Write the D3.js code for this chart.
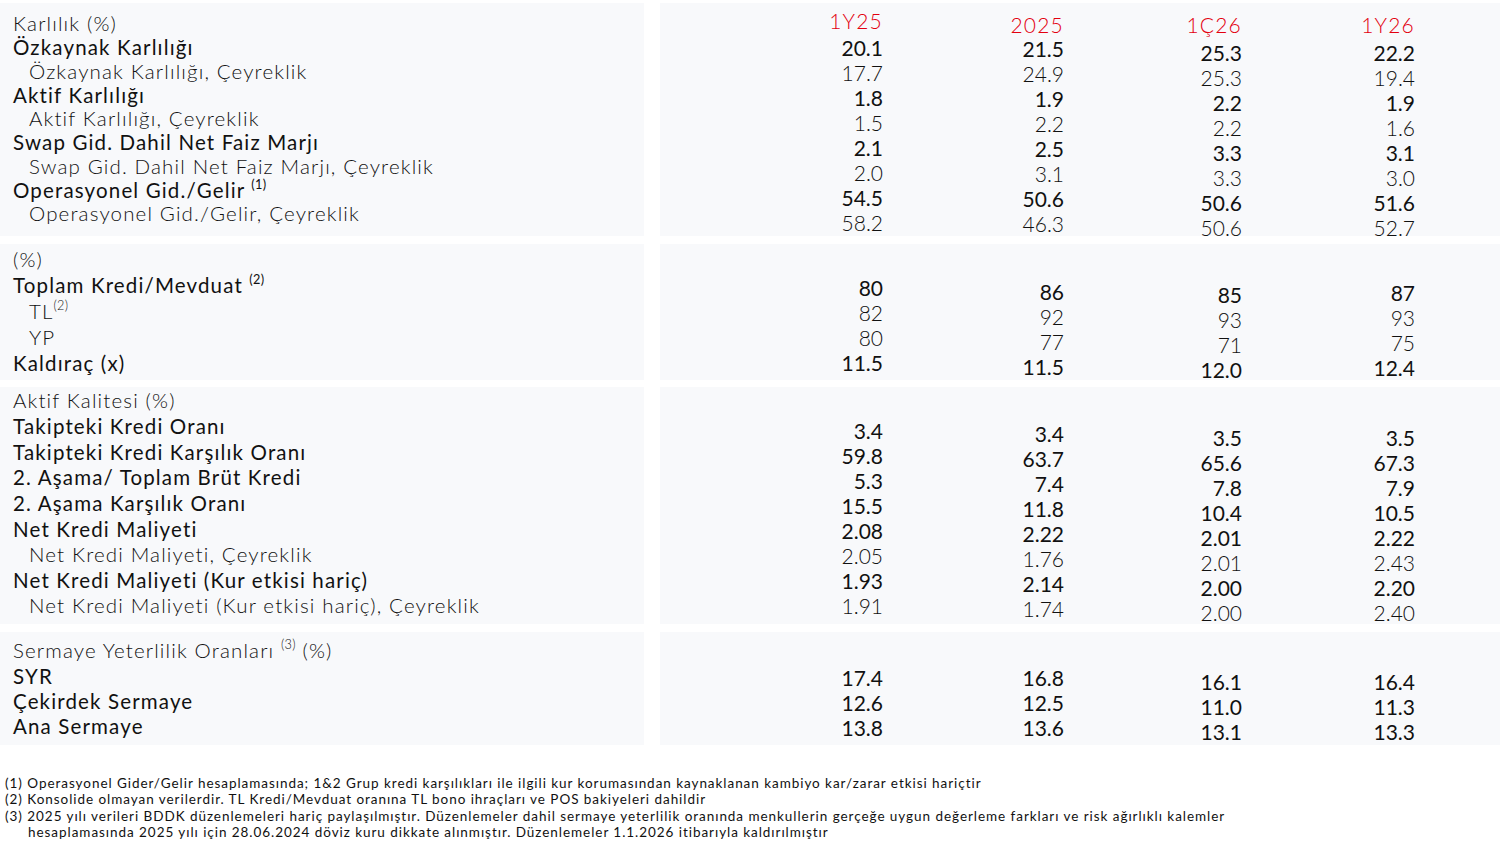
<!DOCTYPE html>
<html>
<head>
<meta charset="utf-8">
<script src="https://cdn.jsdelivr.net/npm/d3@7.9.0/dist/d3.min.js"></script>
<style>
  html, body { margin: 0; padding: 0; background: #fff; }
  svg { display: block; font-family: Lato, "Noto Sans", sans-serif; }
</style>
</head>
<body>
<div id="chart"></div>
<script>
// --- data ---
const columns = ["1Y25", "2025", "1Ç26", "1Y26"];

const profitLabels = [
  "Karlılık (%)",
  "Özkaynak Karlılığı",
  "Özkaynak Karlılığı, Çeyreklik",
  "Aktif Karlılığı",
  "Aktif Karlılığı, Çeyreklik",
  "Swap Gid. Dahil Net Faiz Marjı",
  "Swap Gid. Dahil Net Faiz Marjı, Çeyreklik",
  "Operasyonel Gid./Gelir ^(1)",
  "Operasyonel Gid./Gelir, Çeyreklik"
];
const profitLevels = [0, 1, 2, 1, 2, 1, 2, 1, 2];
const profitValues = [
  [20.1, 21.5, 25.3, 22.2],
  [17.7, 24.9, 25.3, 19.4],
  [1.8, 1.9, 2.2, 1.9],
  [1.5, 2.2, 2.2, 1.6],
  [2.1, 2.5, 3.3, 3.1],
  [2.0, 3.1, 3.3, 3.0],
  [54.5, 50.6, 50.6, 51.6],
  [58.2, 46.3, 50.6, 52.7]
];
const profitDecimals = [1, 1, 1, 1, 1, 1, 1, 1];

const balanceLabels = ["(%)", "Toplam Kredi/Mevduat ^(2)", "TL^(2)", "YP", "Kaldıraç (x)"];
const balanceLevels = [0, 1, 2, 2, 1];
const balanceValues = [
  [80, 86, 85, 87],
  [82, 92, 93, 93],
  [80, 77, 71, 75],
  [11.5, 11.5, 12.0, 12.4]
];
const balanceDecimals = [0, 0, 0, 1];

const qualityLabels = [
  "Aktif Kalitesi (%)",
  "Takipteki Kredi Oranı",
  "Takipteki Kredi Karşılık Oranı",
  "2. Aşama/ Toplam Brüt Kredi",
  "2. Aşama Karşılık Oranı",
  "Net Kredi Maliyeti",
  "Net Kredi Maliyeti, Çeyreklik",
  "Net Kredi Maliyeti (Kur etkisi hariç)",
  "Net Kredi Maliyeti (Kur etkisi hariç), Çeyreklik"
];
const qualityLevels = [0, 1, 1, 1, 1, 1, 2, 1, 2];
const qualityValues = [
  [3.4, 3.4, 3.5, 3.5],
  [59.8, 63.7, 65.6, 67.3],
  [5.3, 7.4, 7.8, 7.9],
  [15.5, 11.8, 10.4, 10.5],
  [2.08, 2.22, 2.01, 2.22],
  [2.05, 1.76, 2.01, 2.43],
  [1.93, 2.14, 2.00, 2.20],
  [1.91, 1.74, 2.00, 2.40]
];
const qualityDecimals = [1, 1, 1, 1, 2, 2, 2, 2];

const capitalLabels = ["Sermaye Yeterlilik Oranları ^(3) (%)", "SYR", "Çekirdek Sermaye", "Ana Sermaye"];
const capitalLevels = [0, 1, 1, 1];
const capitalValues = [
  [17.4, 16.8, 16.1, 16.4],
  [12.6, 12.5, 11.0, 11.3],
  [13.8, 13.6, 13.1, 13.3]
];
const capitalDecimals = [1, 1, 1];

const footnotes = [
  "(1) Operasyonel Gider/Gelir hesaplamasında; 1&2 Grup kredi karşılıkları ile ilgili kur korumasından kaynaklanan kambiyo kar/zarar etkisi hariçtir",
  "(2) Konsolide olmayan verilerdir. TL Kredi/Mevduat oranına TL bono ihraçları ve POS bakiyeleri dahildir",
  "(3) 2025 yılı verileri BDDK düzenlemeleri hariç paylaşılmıştır. Düzenlemeler dahil sermaye yeterlilik oranında menkullerin gerçeğe uygun değerleme farkları ve risk ağırlıklı kalemler",
  "hesaplamasında 2025 yılı için 28.06.2024 döviz kuru dikkate alınmıştır. Düzenlemeler 1.1.2026 itibarıyla kaldırılmıştır"
];

// --- layout ---
const width = 1500;
const height = 860;
const red = "#e3000f";
const ink = "#111";
const panelFill = "#f8f9fb";

const sections = [
  { labels: profitLabels, levels: profitLevels, values: profitValues, decimals: profitDecimals,
    panel: [3, 236], labelY: [24, 214], valueY: 48, step: 25.1, colOff: [0, 1, 5, 5] },
  { labels: balanceLabels, levels: balanceLevels, values: balanceValues, decimals: balanceDecimals,
    panel: [244, 380], labelY: [260, 364], valueY: 288, step: 25.3, colOff: [0, 4, 7, 5] },
  { labels: qualityLabels, levels: qualityLevels, values: qualityValues, decimals: qualityDecimals,
    panel: [387, 624], labelY: [401, 606], valueY: 431, step: 25, colOff: [0, 3.5, 7.5, 7] },
  { labels: capitalLabels, levels: capitalLevels, values: capitalValues, decimals: capitalDecimals,
    panel: [632, 745], labelY: [651, 727], valueY: 678, step: 25, colOff: [0, 0, 4, 4] }
];

const headerY = [22, 26, 26, 26];

const xCol = d3.scaleOrdinal().domain(columns).range([883, 1064, 1242, 1415]);
const levelX = [13, 13, 29];
const levelWeight = [300, 400, 300];

const svg = d3
  .select("#chart")
  .append("svg")
  .attr("width", width)
  .attr("height", height);

// panels
const panels = svg.append("g").attr("class", "panels");
sections.forEach((s) => {
  panels.append("rect")
    .attr("x", 0).attr("y", s.panel[0])
    .attr("width", 644).attr("height", s.panel[1] - s.panel[0])
    .attr("fill", panelFill);
  panels.append("rect")
    .attr("x", 660).attr("y", s.panel[0])
    .attr("width", width - 660).attr("height", s.panel[1] - s.panel[0])
    .attr("fill", panelFill);
});

// column headers
svg.append("g")
  .attr("class", "col-headers")
  .selectAll("text")
  .data(columns)
  .join("text")
  .attr("x", (d) => xCol(d))
  .attr("y", (d, i) => headerY[i])
  .attr("dy", "0.34em")
  .attr("text-anchor", "end")
  .attr("fill", red)
  .attr("font-size", 21)
  .attr("font-weight", 300)
  .attr("letter-spacing", 1.2)
  .text((d) => d);

// label with optional superscript marks like ^(1)
function writeLabel(sel, str) {
  const parts = str.split(/\^(\(\d\))/);
  parts.forEach((p, i) => {
    if (!p) return;
    if (i % 2 === 1) {
      sel.append("tspan")
        .attr("font-size", "0.62em")
        .attr("letter-spacing", 0.3)
        .attr("baseline-shift", "0.7em")
        .text(p);
    } else {
      sel.append("tspan").text(p);
    }
  });
}

sections.forEach((s, si) => {
  const g = svg.append("g").attr("class", "section-" + si);
  const yLabel = d3.scaleLinear()
    .domain([0, s.labels.length - 1])
    .range(s.labelY);

  g.append("g")
    .selectAll("text")
    .data(s.labels)
    .join("text")
    .attr("x", (d, i) => levelX[s.levels[i]])
    .attr("y", (d, i) => yLabel(i))
    .attr("dy", "0.36em")
    .attr("fill", ink)
    .attr("font-size", 20.5)
    .attr("letter-spacing", 1.15)
    .attr("font-weight", (d, i) => levelWeight[s.levels[i]])
    .each(function (d) { writeLabel(d3.select(this), d); });

  const yValue = d3.scaleLinear()
    .domain([0, 1])
    .range([s.valueY, s.valueY + s.step]);

  const cells = [];
  s.values.forEach((row, ri) => {
    row.forEach((v, ci) => {
      cells.push({ row: ri, col: ci, text: d3.format("." + s.decimals[ri] + "f")(v) });
    });
  });

  g.append("g")
    .selectAll("text")
    .data(cells)
    .join("text")
    .attr("x", (d) => xCol(columns[d.col]))
    .attr("y", (d) => yValue(d.row) + s.colOff[d.col])
    .attr("dy", "0.36em")
    .attr("text-anchor", "end")
    .attr("fill", ink)
    .attr("font-size", 21)
    .attr("font-weight", (d) => (s.levels[d.row + 1] === 2 ? 300 : 400))
    .text((d) => d.text);
});

// footnotes
const yNote = d3.scaleLinear().domain([0, footnotes.length - 1]).range([783, 832]);
svg.append("g")
  .attr("class", "footnotes")
  .selectAll("text")
  .data(footnotes)
  .join("text")
  .attr("x", (d, i) => (i === 3 ? 28 : 5))
  .attr("y", (d, i) => yNote(i))
  .attr("dy", "0.36em")
  .attr("fill", ink)
  .attr("font-size", 13.5)
  .attr("letter-spacing", 0.95)
  .attr("font-weight", 400)
  .text((d) => d);
</script>
</body>
</html>
